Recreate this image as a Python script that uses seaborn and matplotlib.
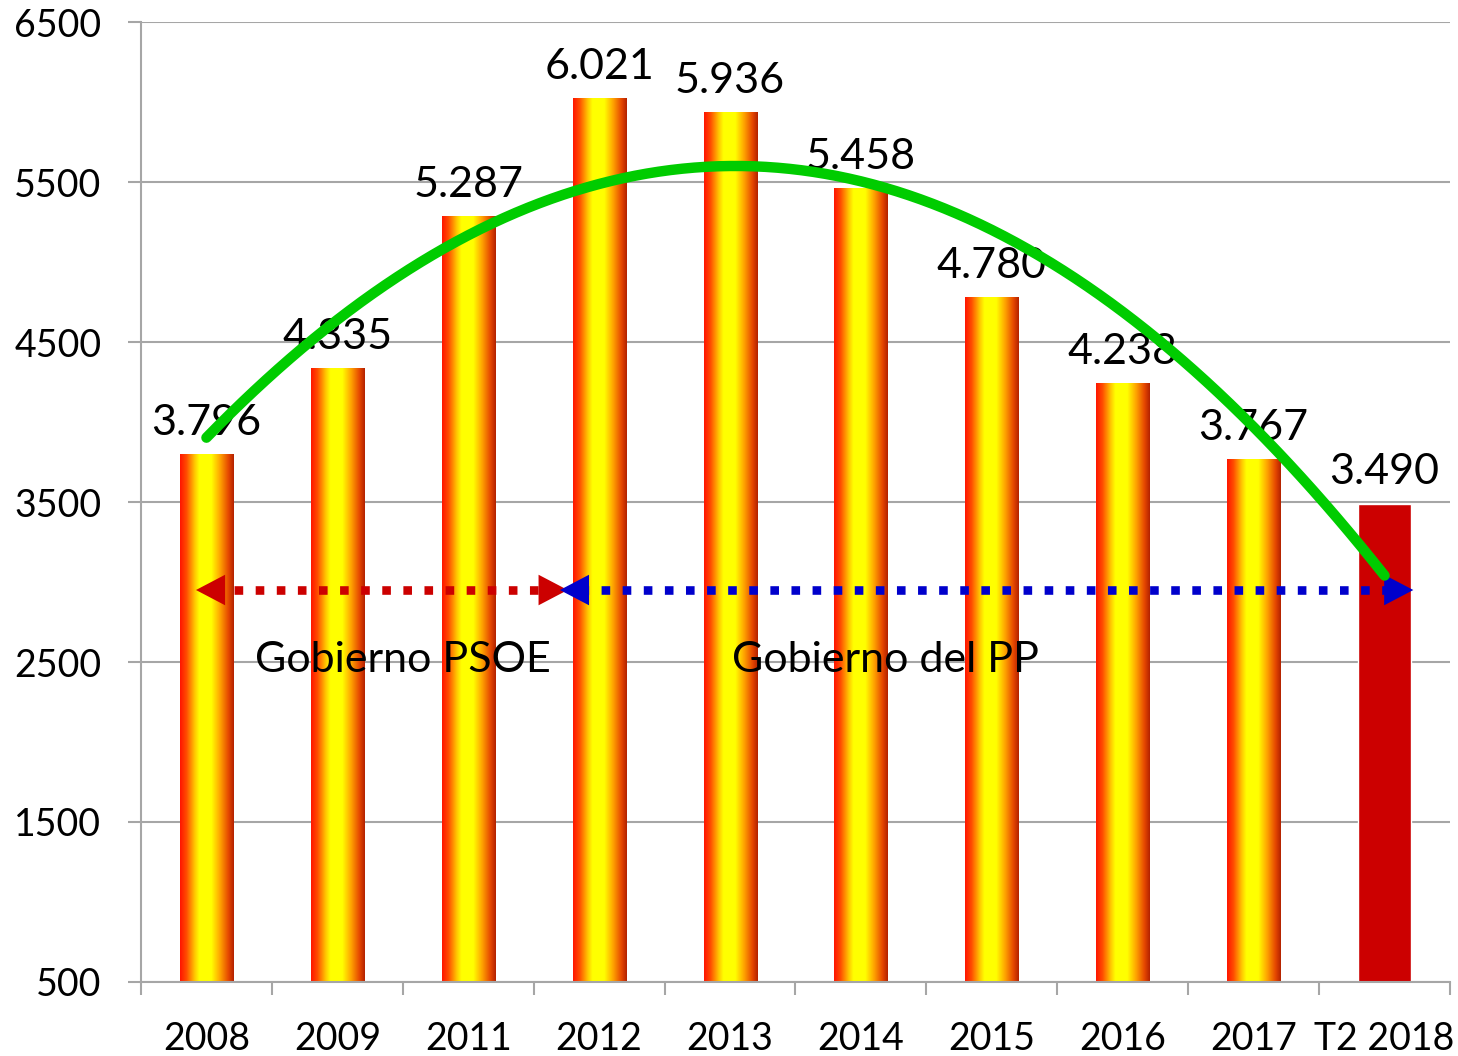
import numpy as np
import pandas as pd
import seaborn as sns
import matplotlib.pyplot as plt
from matplotlib.colors import LinearSegmentedColormap

# data
years = ["2008", "2009", "2011", "2012", "2013", "2014", "2015", "2016", "2017", "T2 2018"]
values = [3796, 4335, 5287, 6021, 5936, 5458, 4780, 4238, 3767, 3490]
labels = ["3.796", "4.335", "5.287", "6.021", "5.936", "5.458", "4.780", "4.238", "3.767", "3.490"]
# green trend curve, read at each category position
trend = [3900, 4640, 5170, 5490, 5600, 5500, 5200, 4690, 3970, 3040]
yticks = [500, 1500, 2500, 3500, 4500, 5500, 6500]

sns.set_style("white")
plt.rcParams['font.family'] = ['Lato', 'DejaVu Sans']
plt.rcParams['text.color'] = 'black'
plt.rcParams['xtick.labelcolor'] = 'black'
plt.rcParams['ytick.labelcolor'] = 'black'

df = pd.DataFrame({"year": years, "value": values})

fig = plt.figure(figsize=(14.58, 10.56), dpi=100)
ax = fig.add_axes([0.0967, 0.0701, 0.8978, 0.909])

sns.barplot(data=df, x="year", y="value", color="#CC0000", width=0.405,
            saturation=1, ax=ax, zorder=2)

# red-yellow gradient fill on all bars except the last one
grad = LinearSegmentedColormap.from_list("ry", [
    (0.0, (1.0, 0.08, 0.0)),
    (0.12, (1.0, 0.30, 0.0)),
    (0.28, (1.0, 0.80, 0.0)),
    (0.36, (1.0, 1.0, 0.0)),
    (0.58, (1.0, 1.0, 0.0)),
    (0.74, (1.0, 0.65, 0.0)),
    (0.90, (0.90, 0.28, 0.0)),
    (1.0, (0.70, 0.13, 0.0)),
])
g = np.linspace(0, 1, 256).reshape(1, -1)
ymin = yticks[0]
for p in ax.patches[:-1]:
    x0, y0 = p.get_x(), max(p.get_y(), ymin)
    w, top = p.get_width(), p.get_y() + p.get_height()
    ax.imshow(g, cmap=grad, extent=(x0, x0 + w, y0, top),
              aspect='auto', zorder=2, interpolation='bilinear')
    p.set_facecolor("none")
    p.set_edgecolor("none")

# value labels
for i, (v, t) in enumerate(zip(values, labels)):
    ax.annotate(t, (i, v), xytext=(0, 9), textcoords="offset points",
                ha="center", va="bottom", fontsize=31, color="black", zorder=3)

# trend curve
sns.regplot(x=np.arange(len(trend)), y=np.array(trend), order=2, scatter=False,
            ci=None, ax=ax, line_kws=dict(color="#00CC00", lw=7.5,
                                          solid_capstyle="round", zorder=6))

# government periods
arrow_y = 2950
ax.plot([0.05, 2.58], [arrow_y, arrow_y], color="#CC0000", lw=6.2,
        linestyle=(0, (1, 1.45)), zorder=4)
ax.plot([2.85, 9.0], [arrow_y, arrow_y], color="#0000CC", lw=6.2,
        linestyle=(0, (1, 1.45)), zorder=4)
head = dict(arrowstyle="-|>,head_length=2.1,head_width=1.1", lw=0, shrinkA=0, shrinkB=0)
ax.annotate("", xy=(-0.08, arrow_y), xytext=(0.2, arrow_y),
            arrowprops=dict(head, color="#CC0000"), zorder=5)
ax.annotate("", xy=(2.76, arrow_y), xytext=(2.5, arrow_y),
            arrowprops=dict(head, color="#CC0000"), zorder=5)
ax.annotate("", xy=(2.7, arrow_y), xytext=(2.95, arrow_y),
            arrowprops=dict(head, color="#0000CC"), zorder=5)
ax.annotate("", xy=(9.22, arrow_y), xytext=(8.95, arrow_y),
            arrowprops=dict(head, color="#0000CC"), zorder=5)

ax.text(1.5, 2510, "Gobierno PSOE", ha="center", va="center", fontsize=31,
        color="black", zorder=3)
ax.text(5.19, 2510, "Gobierno del PP", ha="center", va="center", fontsize=31,
        color="black", zorder=3)

# axes styling
ax.set_xlim(-0.5, 9.5)
ax.set_ylim(500, 6500)
ax.set_yticks(yticks)
ax.set_yticklabels([str(t) for t in yticks])
ax.set_xticks(range(len(years)))
ax.set_xticklabels(years)
ax.set_xticks(np.arange(-0.5, 10, 1), minor=True)
ax.set_xlabel("")
ax.set_ylabel("")
ax.yaxis.grid(True, color="#A6A6A6", lw=1.5, zorder=0)
ax.set_axisbelow(True)
for s in ["top", "right"]:
    ax.spines[s].set_visible(False)
for s in ["left", "bottom"]:
    ax.spines[s].set_color("#A6A6A6")
    ax.spines[s].set_linewidth(1.5)
ax.tick_params(axis="y", which="major", length=9.5, width=1.5, color="#A6A6A6",
               pad=19, labelsize=27, left=True, direction="out")
ax.tick_params(axis="x", which="major", length=0, pad=28, labelsize=27)
ax.tick_params(axis="x", which="minor", length=9.5, width=1.5, color="#A6A6A6",
               bottom=True, direction="out")

fig.savefig("out.png", dpi=100)
